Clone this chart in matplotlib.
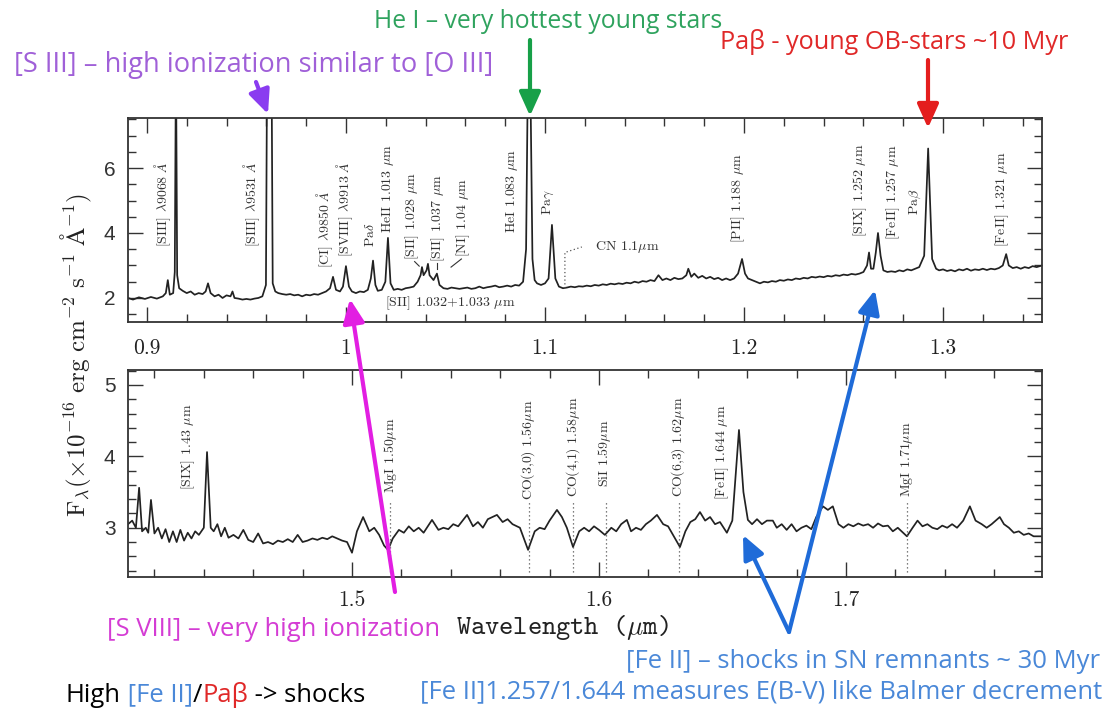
import matplotlib
matplotlib.use("Agg")
import matplotlib.pyplot as plt
from matplotlib.ticker import MultipleLocator, FuncFormatter
from matplotlib.patches import FancyArrowPatch, ArrowStyle

plt.rcParams["mathtext.fontset"] = "cm"
plt.rcParams["axes.unicode_minus"] = False

# ---------------- spectrum, 0.89-1.35 micron (flux in 1e-16 erg/cm2/s/A) -------------
opt_wave = [
    0.8905, 0.893, 0.896, 0.899, 0.902, 0.905, 0.908, 0.9095, 0.9105, 0.9115,
    0.9132, 0.9140, 0.9146, 0.9152, 0.9162, 0.918, 0.920, 0.922, 0.924, 0.926,
    0.928, 0.9295, 0.9307, 0.932, 0.934, 0.936, 0.938, 0.940, 0.942, 0.943,
    0.944, 0.946, 0.948, 0.950, 0.952, 0.954, 0.956, 0.958, 0.9598, 0.9604,
    0.9626, 0.9632, 0.9645, 0.966, 0.968, 0.970, 0.972, 0.974, 0.976, 0.978,
    0.980, 0.982, 0.984, 0.986, 0.988, 0.990, 0.992, 0.9935, 0.995, 0.997,
    0.9985, 1.0000, 1.0015, 1.003, 1.005, 1.007, 1.009, 1.011, 1.0125, 1.0136,
    1.0148, 1.016, 1.018, 1.0198, 1.0211, 1.0224, 1.024, 1.026, 1.028, 1.030,
    1.032, 1.034, 1.036, 1.0375, 1.0382, 1.039, 1.0405, 1.0412, 1.042, 1.044,
    1.0457, 1.047, 1.049, 1.051, 1.053, 1.055, 1.057, 1.059, 1.061, 1.063,
    1.065, 1.067, 1.069, 1.071, 1.073, 1.075, 1.077, 1.079, 1.081, 1.083,
    1.085, 1.087, 1.089, 1.0905, 1.0915, 1.0925, 1.0937, 1.0948, 1.096, 1.098,
    1.100, 1.1018, 1.1035, 1.1052, 1.107, 1.109, 1.111, 1.113, 1.115, 1.117,
    1.119, 1.121, 1.123, 1.125, 1.127, 1.129, 1.131, 1.133, 1.135, 1.137,
    1.139, 1.141, 1.143, 1.145, 1.147, 1.149, 1.151, 1.153, 1.155, 1.157,
    1.159, 1.161, 1.163, 1.165, 1.167, 1.169, 1.171, 1.172, 1.1735, 1.175,
    1.177, 1.179, 1.181, 1.183, 1.185, 1.187, 1.189, 1.191, 1.193, 1.195,
    1.197, 1.199, 1.2005, 1.202, 1.204, 1.206, 1.208, 1.210, 1.212, 1.214,
    1.216, 1.218, 1.220, 1.222, 1.224, 1.226, 1.228, 1.230, 1.232, 1.234,
    1.236, 1.238, 1.240, 1.242, 1.244, 1.246, 1.248, 1.250, 1.252, 1.254,
    1.256, 1.258, 1.260, 1.2618, 1.2628, 1.2638, 1.2650, 1.2662, 1.2673, 1.2686,
    1.270, 1.272, 1.274, 1.276, 1.278, 1.280, 1.282, 1.284, 1.286, 1.288,
    1.2905, 1.2925, 1.2945, 1.2965, 1.298, 1.300, 1.302, 1.304, 1.306, 1.308,
    1.310, 1.312, 1.314, 1.316, 1.318, 1.320, 1.322, 1.324, 1.326, 1.328,
    1.330, 1.3317, 1.333, 1.335, 1.337, 1.339, 1.341, 1.343, 1.345, 1.347,
    1.3497,
]
opt_flux = [
    2.00, 1.95, 2.02, 1.97, 2.03, 1.98, 2.05, 2.15, 2.55, 2.10,
    2.15, 2.80, 9.50, 2.70, 2.30, 2.22, 2.15, 2.20, 2.10, 2.15,
    2.12, 2.20, 2.45, 2.15, 2.05, 2.10, 2.00, 2.08, 2.05, 2.20,
    2.00, 1.98, 1.95, 1.97, 1.95, 1.98, 2.00, 2.05, 2.40, 9.50,
    9.50, 2.45, 2.20, 2.15, 2.12, 2.10, 2.12, 2.08, 2.10, 2.05,
    2.10, 2.08, 2.12, 2.10, 2.15, 2.20, 2.30, 2.65, 2.25, 2.20,
    2.35, 2.98, 2.35, 2.20, 2.15, 2.20, 2.18, 2.25, 2.60, 3.15,
    2.40, 2.22, 2.25, 2.50, 3.85, 2.45, 2.25, 2.28, 2.25, 2.30,
    2.32, 2.35, 2.50, 2.70, 2.95, 2.70, 2.85, 3.05, 2.70, 2.55,
    2.75, 2.40, 2.30, 2.28, 2.32, 2.30, 2.28, 2.30, 2.32, 2.28,
    2.30, 2.35, 2.30, 2.33, 2.35, 2.38, 2.33, 2.35, 2.38, 2.35,
    2.40, 2.38, 2.50, 3.50, 9.50, 9.50, 3.20, 2.55, 2.45, 2.40,
    2.45, 2.60, 4.25, 2.60, 2.35, 2.30, 2.32, 2.35, 2.33, 2.36,
    2.35, 2.38, 2.36, 2.40, 2.38, 2.42, 2.40, 2.44, 2.42, 2.45,
    2.43, 2.47, 2.45, 2.50, 2.47, 2.52, 2.50, 2.55, 2.52, 2.70,
    2.55, 2.60, 2.55, 2.62, 2.58, 2.60, 2.70, 2.90, 2.65, 2.75,
    2.62, 2.68, 2.60, 2.65, 2.58, 2.62, 2.55, 2.60, 2.55, 2.60,
    2.75, 3.20, 2.75, 2.60, 2.55, 2.50, 2.45, 2.50, 2.48, 2.52,
    2.50, 2.55, 2.53, 2.57, 2.55, 2.60, 2.58, 2.62, 2.60, 2.65,
    2.63, 2.66, 2.64, 2.68, 2.66, 2.70, 2.68, 2.72, 2.70, 2.74,
    2.72, 2.75, 2.80, 3.00, 3.40, 2.90, 2.90, 3.40, 4.00, 3.30,
    2.85, 2.80, 2.82, 2.80, 2.85, 2.82, 2.88, 2.85, 2.90, 2.95,
    3.30, 6.60, 3.20, 2.90, 2.85, 2.88, 2.83, 2.86, 2.82, 2.88,
    2.85, 2.90, 2.84, 2.88, 2.86, 2.90, 2.86, 2.90, 2.88, 2.92,
    3.00, 3.35, 3.00, 2.92, 2.95, 2.90, 2.95, 2.92, 2.98, 2.95,
    3.00,
]

# ---------------- spectrum, 1.41-1.78 micron -------------------------------------------
nir_wave = [
    1.4093, 1.411, 1.4125, 1.4138, 1.4150, 1.4165, 1.4175, 1.4186, 1.420, 1.4215,
    1.423, 1.4245, 1.426, 1.4275, 1.429, 1.4305, 1.432, 1.4335, 1.435, 1.4365,
    1.438, 1.440, 1.4413, 1.4428, 1.444, 1.4455, 1.447, 1.4485, 1.450, 1.452,
    1.454, 1.456, 1.458, 1.460, 1.462, 1.464, 1.466, 1.468, 1.470, 1.472,
    1.474, 1.476, 1.478, 1.480, 1.482, 1.484, 1.486, 1.488, 1.490, 1.492,
    1.494, 1.496, 1.498, 1.500, 1.502, 1.5045, 1.507, 1.509, 1.511, 1.513,
    1.5146, 1.5165, 1.519, 1.521, 1.523, 1.525, 1.527, 1.529, 1.5324, 1.535,
    1.537, 1.539, 1.541, 1.543, 1.5466, 1.549, 1.551, 1.553, 1.555, 1.5587,
    1.561, 1.563, 1.565, 1.568, 1.5713, 1.574, 1.576, 1.578, 1.580, 1.583,
    1.585, 1.587, 1.5895, 1.592, 1.594, 1.596, 1.598, 1.600, 1.6024, 1.605,
    1.607, 1.609, 1.6113, 1.613, 1.615, 1.617, 1.619, 1.621, 1.6235, 1.626,
    1.628, 1.630, 1.6328, 1.635, 1.637, 1.639, 1.6409, 1.643, 1.645, 1.647,
    1.649, 1.6518, 1.654, 1.6567, 1.6585, 1.6603, 1.662, 1.664, 1.666, 1.668,
    1.6704, 1.672, 1.674, 1.676, 1.678, 1.680, 1.682, 1.684, 1.686, 1.688,
    1.6907, 1.6927, 1.6947, 1.697, 1.699, 1.701, 1.703, 1.705, 1.707, 1.709,
    1.711, 1.713, 1.715, 1.717, 1.719, 1.721, 1.7247, 1.727, 1.729, 1.731,
    1.733, 1.735, 1.737, 1.739, 1.741, 1.743, 1.745, 1.7475, 1.7502, 1.7525,
    1.755, 1.757, 1.759, 1.7623, 1.764, 1.766, 1.768, 1.770, 1.772, 1.774,
    1.776, 1.7794,
]
nir_flux = [
    3.05, 3.10, 3.00, 3.56, 2.95, 3.00, 2.93, 3.39, 2.92, 3.00,
    2.85, 2.98, 2.80, 2.95, 2.80, 2.97, 2.82, 2.93, 2.85, 2.95,
    2.90, 3.00, 4.06, 3.00, 2.95, 3.05, 2.88, 3.00, 2.86, 2.90,
    2.85, 2.97, 2.83, 2.80, 2.92, 2.78, 2.80, 2.77, 2.82, 2.80,
    2.84, 2.80, 2.90, 2.80, 2.82, 2.85, 2.83, 2.86, 2.84, 2.88,
    2.85, 2.82, 2.80, 2.65, 2.95, 3.15, 2.95, 3.00, 2.90, 2.75,
    2.69, 2.85, 2.97, 2.93, 3.02, 2.95, 3.00, 2.93, 3.11, 2.97,
    3.00, 2.98, 3.05, 3.02, 3.18, 3.02, 3.08, 3.00, 3.12, 3.18,
    3.08, 3.12, 3.05, 3.00, 2.69, 2.95, 3.00, 2.98, 3.10, 3.25,
    3.15, 3.00, 2.73, 2.95, 3.00, 2.95, 3.02, 2.97, 2.90, 3.00,
    2.95, 3.05, 3.11, 2.95, 3.00, 2.97, 3.05, 3.10, 3.18, 3.05,
    3.02, 2.90, 2.73, 2.95, 3.08, 3.12, 3.22, 3.10, 3.15, 3.05,
    3.08, 2.93, 3.10, 4.37, 3.50, 3.11, 3.05, 3.12, 3.05, 3.10,
    3.10, 3.00, 3.05, 2.97, 3.05, 2.95, 3.00, 3.03, 2.98, 3.15,
    3.30, 3.25, 3.30, 3.05, 3.00, 3.05, 3.02, 3.06, 3.03, 3.05,
    3.00, 3.06, 3.02, 3.03, 2.95, 3.00, 2.88, 3.00, 3.10, 3.02,
    3.05, 3.00, 2.98, 3.03, 3.00, 3.05, 3.00, 3.10, 3.30, 3.10,
    3.05, 3.00, 3.05, 3.15, 3.05, 3.00, 2.93, 2.95, 2.90, 2.92,
    2.88, 2.88,
]

# line identifications: (label, wavelength, flux where the label starts)
opt_ids = [
    (r"[SIII] $\lambda$9068 $\AA$", 0.9080, 3.57),
    (r"[SIII] $\lambda$9531 $\AA$", 0.9528, 3.57),
    (r"[CI] $\lambda$9850 $\AA$", 0.9894, 2.92),
    (r"[SVIII] $\lambda$9913 $\AA$", 0.9995, 3.26),
    (r"Pa$\delta$", 1.0121, 3.57),
    (r"HeII 1.013 $\mu$m", 1.0211, 4.00),
    (r"[SII] 1.028 $\mu$m", 1.0332, 3.17),
    (r"[SII] 1.037 $\mu$m", 1.0462, 3.10),
    (r"[NI] 1.04 $\mu$m", 1.0588, 3.26),
    (r"HeI 1.083 $\mu$m", 1.0834, 4.00),
    (r"Pa$\gamma$", 1.1015, 4.55),
    (r"[PII] 1.188 $\mu$m", 1.1970, 3.69),
    (r"[SIX] 1.252 $\mu$m", 1.2583, 3.88),
    (r"[FeII] 1.257 $\mu$m", 1.2749, 3.78),
    (r"Pa$\beta$", 1.2859, 4.55),
    (r"[FeII] 1.321 $\mu$m", 1.3296, 3.57),
]
nir_ids = [
    (r"[SIX] 1.43 $\mu$m", 1.4336, 3.53),
    (r"MgI 1.50$\mu$m", 1.5154, 3.49),
    (r"CO(3,0) 1.56$\mu$m", 1.5713, 3.39),
    (r"CO(4,1) 1.58$\mu$m", 1.5895, 3.43),
    (r"SiI 1.59$\mu$m", 1.6024, 3.57),
    (r"CO(6,3) 1.62$\mu$m", 1.6320, 3.43),
    (r"[FeII] 1.644 $\mu$m", 1.6498, 3.39),
    (r"MgI 1.71$\mu$m", 1.7247, 3.43),
]
# absorption features marked with dotted guides
nir_absorption = [1.5154, 1.5717, 1.5895, 1.6028, 1.6324, 1.7247]

W, H = 1112, 716
INK = "#222222"
SERIF = "cmr10"


def fig_pt(x, y):
    """Pixel position (origin top-left) -> figure fraction."""
    return (x / W, 1 - y / H)


fig = plt.figure(figsize=(W / 100, H / 100), dpi=100)
fig.patch.set_facecolor("white")
renderer = fig.canvas.get_renderer()

ax1 = fig.add_axes([128 / W, 1 - 322 / H, (1042 - 128) / W, (322 - 118) / H])
ax2 = fig.add_axes([128 / W, 1 - 577 / H, (1042 - 128) / W, (577 - 370) / H])

ax1.plot(opt_wave, opt_flux, color=INK, lw=1.25)
ax2.plot(nir_wave, nir_flux, color=INK, lw=1.25)

ax1.set_xlim(0.8905, 1.3497)
ax1.set_ylim(1.26, 7.54)
ax2.set_xlim(1.4093, 1.7794)
ax2.set_ylim(2.31, 5.21)

fmt = FuncFormatter(lambda v, p: f"{round(v, 3):g}")
for ax, ymaj, ymin, xpad in ((ax1, 2, 0.5, 12), (ax2, 1, 0.2, 10)):
    ax.xaxis.set_major_locator(MultipleLocator(0.1))
    ax.xaxis.set_minor_locator(MultipleLocator(0.02))
    ax.yaxis.set_major_locator(MultipleLocator(ymaj))
    ax.yaxis.set_minor_locator(MultipleLocator(ymin))
    ax.xaxis.set_major_formatter(fmt)
    ax.tick_params(which="both", direction="in", top=True, right=True,
                   color="#333333", width=1.0)
    ax.tick_params(which="major", length=11)
    ax.tick_params(which="minor", length=5.5)
    ax.tick_params(axis="x", labelsize=15.5, labelfontfamily=SERIF, pad=xpad,
                   labelcolor="#222222")
    ax.tick_params(axis="y", labelsize=15, labelfontfamily="Liberation Sans",
                   pad=9, labelcolor="#333333")
    for s in ax.spines.values():
        s.set_linewidth(1.3)
        s.set_color("#333333")

# rotated line identifications
for ax, ids in ((ax1, opt_ids), (ax2, nir_ids)):
    for label, wl, fl in ids:
        ax.text(wl, fl, label, rotation=90, ha="center", va="bottom",
                fontsize=10, family=SERIF, color="#333333")

# leader strokes beside the crowded [SII]/[NI] lines
ax1.plot([1.0345, 1.0368], [3.12, 2.98], color="#333333", lw=0.8)
ax1.plot([1.0458, 1.0458], [3.08, 2.88], color="#333333", lw=0.8)
ax1.plot([1.0580, 1.0528], [3.20, 2.95], color="#333333", lw=0.8)
ax1.text(1.0196, 1.83, r"[SII] 1.032+1.033 $\mu$m", ha="left", va="center",
         fontsize=10, family=SERIF, color="#333333")

# CN band pointer
ax1.plot([1.1100, 1.1100, 1.1185], [2.30, 3.40, 3.57], color="#555555",
         lw=0.9, ls=(0, (1, 2)))
ax1.text(1.1251, 3.57, r"CN 1.1$\mu$m", ha="left", va="center", fontsize=10,
         family=SERIF, color="#333333")

for wl in nir_absorption:
    ax2.plot([wl, wl], [2.38, 3.38], color="#555555", lw=0.9, ls=(0, (1, 2.2)))

# axis titles
fig.text(*fig_pt(76, 355),
         r"$\mathrm{F}_\lambda(\times10^{-16}\ \mathrm{erg\ cm^{-2}\ s^{-1}\ \AA^{-1}})$",
         rotation=90, ha="center", va="center", fontsize=18, color="#222222")
fig.text(*fig_pt(562, 627), r"Wavelength ($\mu$m)", ha="center", va="center",
         fontsize=19.5, family="cmtt10", color="#222222")

# ---------------- slide annotations ---------------------------------------------------
SANS = ["Open Sans", "Noto Sans", "DejaVu Sans"]
GREEN, GREEN_A = "#2fa35e", "#17a048"
PURPLE, PURPLE_A = "#a060d8", "#8a3cf0"
RED, RED_A = "#e02828", "#e41e1e"
MAGENTA, MAGENTA_A = "#d43cd4", "#e21ee2"
BLUE, BLUE_A = "#4a88d8", "#1f6bd8"


def caption(text, x, y, width, ha, color):
    """Slide caption whose type size is chosen to span `width` pixels."""
    t = fig.text(*fig_pt(x, y), text, color=color, fontsize=16, family=SANS,
                 ha=ha, va="center")
    t.set_fontsize(16 * width / t.get_window_extent(renderer).width)
    return t


caption("He I \u2013 very hottest young stars", 548, 22, 350, "center", GREEN)
caption("[S III] \u2013 high ionization similar to [O III]", 14, 65, 480, "left",
        PURPLE)
caption("Pa\u03b2 - young OB-stars ~10 Myr", 1068, 42, 350, "right", RED)
sv = caption("[S VIII] \u2013 very high ionization", 107, 630, 333, "left", MAGENTA)
TS = sv.get_fontsize()
fig.text(*fig_pt(1100, 662), "[Fe II] \u2013 shocks in SN remnants ~ 30 Myr",
         color=BLUE, fontsize=TS, family=SANS, ha="right", va="center")
fig.text(*fig_pt(1102, 692),
         "[Fe II]1.257/1.644 measures E(B-V) like Balmer decrement",
         color=BLUE, fontsize=TS, family=SANS, ha="right", va="center")

x_cursor = 66
for piece, col in (("High", "black"), (" [Fe II]", BLUE), ("/", "black"),
                   ("Pa\u03b2", RED), (" -> shocks", "black")):
    t = fig.text(*fig_pt(x_cursor, 695), piece, color=col, fontsize=TS,
                 family=SANS, ha="left", va="center")
    x_cursor += t.get_window_extent(renderer).width


def arrow(tail, head, color, lw=3.0):
    style = ArrowStyle("-|>", head_length=0.8, head_width=0.36)
    fig.add_artist(FancyArrowPatch(fig_pt(*tail), fig_pt(*head),
                                   transform=fig.transFigure, arrowstyle=style,
                                   mutation_scale=18, lw=lw, color=color,
                                   shrinkA=0, shrinkB=0, zorder=10))


arrow((530, 40), (530, 116), GREEN_A)
arrow((256, 82), (268, 114), PURPLE_A)
arrow((928, 60), (928, 128), RED_A)
arrow((395, 592), (350, 299), MAGENTA_A)
arrow((789, 632), (743, 535), BLUE_A)
arrow((789, 632), (875, 290), BLUE_A)

fig.savefig("out.png", dpi=100, facecolor="white")
